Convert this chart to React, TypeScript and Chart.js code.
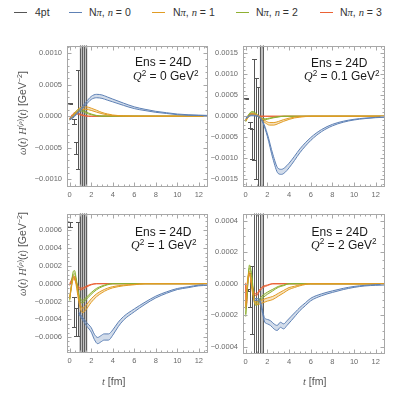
import React, { useEffect, useRef } from "react";
import { Chart, registerables } from "chart.js";
Chart.register(...registerables);

const SANS = "'Liberation Sans', Arial, Helvetica, sans-serif";
const SERIF = "'Liberation Serif', 'Times New Roman', serif";

const seriesColors = ["#5E81B5", "#E19C24", "#8FB032", "#EB6235"];
const seriesFills = [
  "rgba(94,129,181,0.28)",
  "rgba(225,156,36,0.28)",
  "rgba(143,176,50,0.28)",
  "rgba(235,98,53,0.28)",
];
const fourPtColor = "#555555";
const hugeBarColor = "#5e5e5e";

const xTicks = [0, 2, 4, 6, 8, 10, 12];
const xRange = [-0.25, 12.85];

// ---------- Panel A : Q^2 = 0 ----------
const A_yTicks = [-0.001, -0.0005, 0, 0.0005, 0.001];
const A_yRange = [-0.00112, 0.00112];
const A_n0_t = [0, 0.3, 0.6, 1.0, 1.5, 2.0, 2.5, 3.0, 3.5, 4.0, 5.0, 6.0, 7.0, 8.0, 9.0, 10.0, 11.0, 12.0, 12.9];
const A_n0_v = [-0.00005, -0.00002, 0.00003, 0.0001, 0.0002, 0.00029, 0.00032, 0.00031, 0.00028, 0.00025, 0.00019, 0.000135, 0.0001, 0.00007, 0.00005, 0.00003, 0.00002, 0.000015, 0.00001];
const A_n0_w = [0.000005, 0.000008, 0.00001, 0.000015, 0.00002, 0.000024, 0.000027, 0.000027, 0.000025, 0.000022, 0.000018, 0.000014, 0.00001, 0.000008, 0.000006, 0.000005, 0.000004, 0.000003, 0.000003];
const A_n1_t = [0, 0.3, 0.6, 0.9, 1.2, 1.5, 2.0, 2.5, 3.0, 3.5, 4.0, 5.0, 6.0, 12.9];
const A_n1_v = [-0.00005, -0.00001, 0.00006, 0.00011, 0.00013, 0.00013, 0.00011, 0.00008, 0.00005, 0.00003, 0.000015, 0.000004, 0.0, 0.0];
const A_n1_w = [0.000005, 0.00001, 0.000015, 0.000018, 0.00002, 0.00002, 0.000018, 0.000015, 0.00001, 0.000007, 0.000005, 0.000002, 0.000001, 0.000001];
const A_n2_t = [0, 0.3, 0.6, 0.9, 1.2, 1.5, 2.0, 2.5, 3.0, 12.9];
const A_n2_v = [-0.00005, 0.0, 0.00007, 0.0001, 0.00009, 0.00006, 0.00003, 0.00001, 0.000003, 0.0];
const A_n2_w = [0.000005, 0.00001, 0.000012, 0.000015, 0.000012, 0.00001, 0.000006, 0.000003, 0.000002, 0.000001];
const A_n3_t = [0, 0.25, 0.5, 0.8, 1.1, 1.5, 2.0, 12.9];
const A_n3_v = [-0.00004, 0.00002, 0.00005, 0.00004, 0.00002, 0.000005, 0.0, 0.0];
const A_n3_w = [0.000005, 0.000008, 0.00001, 0.00001, 0.000006, 0.000003, 0.000001, 0.000001];
const A_4pt_t = [0, 0.389, 0.583, 0.777, 0.971, 1.166, 1.36, 1.554];
const A_4pt_v = [0.0002, -0.00009, -0.0005, -0.00005, 0, 0, 0, 0];
const A_4pt_e = [0.000004, 0.00004, 0.0001, 0.00079, 0.01, 0.01, 0.01, 0.01];
const A_band = [0.93, 1.65];

// ---------- Panel B : Q^2 = 0.1 ----------
const B_yTicks = [-0.0015, -0.001, -0.0005, 0, 0.0005, 0.001, 0.0015];
const B_yRange = [-0.00168, 0.00168];
const B_n0_t = [0, 0.5, 1.0, 1.3, 1.6, 2.0, 2.5, 3.0, 3.3, 3.6, 4.0, 4.5, 5.0, 6.0, 7.0, 8.0, 9.0, 10.0, 11.0, 12.0, 12.9];
const B_n0_v = [-0.00005, 0.00002, 0.00001, -0.00003, -0.00015, -0.00045, -0.00095, -0.0013, -0.00132, -0.00128, -0.00117, -0.001, -0.00082, -0.00054, -0.00034, -0.00021, -0.00013, -0.00008, -0.00005, -0.00003, -0.00002];
const B_n0_w = [0.000005, 0.000008, 0.00001, 0.00001, 0.000015, 0.00003, 0.00005, 0.00006, 0.00006, 0.00006, 0.000055, 0.00005, 0.000045, 0.000035, 0.000025, 0.000018, 0.000012, 0.000008, 0.000006, 0.000004, 0.000003];
const B_n1_t = [0, 0.3, 0.6, 0.9, 1.2, 1.5, 1.8, 2.2, 2.6, 3.0, 3.5, 4.0, 4.5, 5.0, 6.0, 12.9];
const B_n1_v = [-0.0001, 0.0, 0.00005, 0.00004, 0.0, -0.00007, -0.00013, -0.00018, -0.00018, -0.00015, -0.0001, -0.00006, -0.00003, -0.000015, 0.0, 0.0];
const B_n1_w = [0.00001, 0.00001, 0.00001, 0.00001, 0.000012, 0.00002, 0.000025, 0.00003, 0.00003, 0.000025, 0.00002, 0.000015, 0.00001, 0.000006, 0.000002, 0.000001];
const B_n2_t = [0, 0.3, 0.6, 0.9, 1.2, 1.5, 1.8, 2.2, 2.6, 3.0, 3.5, 12.9];
const B_n2_v = [-0.00012, 0.00004, 0.0001, 0.00007, -0.00001, -0.00006, -0.00007, -0.00005, -0.00003, -0.000015, 0.0, 0.0];
const B_n2_w = [0.00001, 0.00001, 0.000015, 0.000012, 0.00001, 0.00001, 0.00001, 0.000008, 0.000005, 0.000003, 0.000001, 0.000001];
const B_n3_t = [0, 0.2, 0.4, 0.7, 1.0, 1.3, 1.8, 12.9];
const B_n3_v = [-0.0001, 0.0, 0.00005, 0.00005, 0.00002, 0.0, 0.0, 0.0];
const B_n3_w = [0.00001, 0.00001, 0.00001, 0.00001, 0.000006, 0.000003, 0.000001, 0.000001];
const B_4pt_t = [0, 0.389, 0.583, 0.777, 0.971, 1.166, 1.36, 1.554];
const B_4pt_v = [0.00042, -0.0002, -0.00066, 0.00017, -0.0003, -0.0006, 0, 0];
const B_4pt_e = [0.000008, 0.00007, 0.00035, 0.0012, 0.0012, 0.0013, 0.01, 0.01];
const B_band = [1.3, 1.65];

// ---------- Panel C : Q^2 = 1 ----------
const C_yTicks = [-0.0006, -0.0004, -0.0002, 0, 0.0002, 0.0004, 0.0006];
const C_yRange = [-0.00078, 0.00079];
const C_n0_t = [0.85, 1.0, 1.3, 1.6, 2.0, 2.3, 2.6, 2.9, 3.2, 3.6, 4.0, 4.5, 5.0, 6.0, 7.0, 8.0, 9.0, 10.0, 11.0, 12.0, 12.9];
const C_n0_v = [-0.00033, -0.00036, -0.00041, -0.00046, -0.00052, -0.0006, -0.00064, -0.00062, -0.0006, -0.0006, -0.00055, -0.00046, -0.00039, -0.0003, -0.00022, -0.00015, -0.0001, -0.00006, -0.00004, -0.00002, -0.000015];
const C_n0_w = [0.00001, 0.000012, 0.000015, 0.00002, 0.000025, 0.00003, 0.000035, 0.000035, 0.000035, 0.000035, 0.00003, 0.000025, 0.00002, 0.000016, 0.000012, 0.00001, 0.000008, 0.000006, 0.000005, 0.000004, 0.000003];
const C_n1_t = [0, 0.15, 0.3, 0.45, 0.6, 0.8, 1.0, 1.2, 1.5, 2.0, 2.5, 3.0, 3.5, 4.0, 5.0, 6.0, 7.0, 12.9];
const C_n1_v = [-0.00016, -0.00004, 0.00005, 0.00007, 0.0, -0.00015, -0.00026, -0.0003, -0.00027, -0.00019, -0.00013, -0.00009, -0.00006, -0.00004, -0.00002, -0.00001, 0.0, 0.0];
const C_n1_w = [0.00001, 0.00001, 0.00001, 0.000012, 0.000015, 0.00002, 0.000025, 0.000025, 0.000025, 0.00002, 0.000016, 0.000012, 0.000009, 0.000007, 0.000004, 0.000002, 0.000001, 0.000001];
const C_n2_t = [0, 0.15, 0.3, 0.45, 0.6, 0.8, 1.0, 1.2, 1.5, 2.0, 2.5, 3.0, 3.5, 4.0, 12.9];
const C_n2_v = [-0.00018, -0.00003, 0.00011, 0.00013, 0.00005, -0.0001, -0.00019, -0.0002, -0.00017, -0.00011, -0.00006, -0.00003, -0.00001, 0.0, 0.0];
const C_n2_w = [0.00001, 0.00001, 0.000015, 0.000018, 0.000015, 0.000015, 0.000015, 0.000015, 0.000012, 0.00001, 0.000008, 0.000005, 0.000003, 0.000001, 0.000001];
const C_n3_t = [0, 0.15, 0.35, 0.55, 0.8, 1.0, 1.3, 1.6, 2.0, 2.5, 12.9];
const C_n3_v = [-0.00001, 0.00003, 0.00008, 0.00003, -0.00004, -0.00006, -0.00005, -0.00003, -0.00001, 0.0, 0.0];
const C_n3_w = [0.00001, 0.00001, 0.00001, 0.00001, 0.00001, 0.00001, 0.000008, 0.000006, 0.000003, 0.000001, 0.000001];
const C_4pt_t = [0, 0.389, 0.583, 0.777, 0.971, 1.166, 1.36, 1.554];
const C_4pt_v = [0.000665, -0.00032, -0.00043, 0.00005, 0, 0, 0, 0];
const C_4pt_e = [0.000025, 0.00017, 0.00016, 0.00064, 0.01, 0.01, 0.01, 0.01];
const C_band = [0.88, 1.65];

// ---------- Panel D : Q^2 = 2 ----------
const D_yTicks = [-0.0004, -0.0002, 0, 0.0002, 0.0004];
const D_yRange = [-0.000445, 0.000445];
const D_n0_t = [0.8, 1.0, 1.3, 1.5, 1.75, 2.0, 2.3, 2.6, 2.9, 3.2, 3.5, 3.8, 4.2, 4.6, 5.0, 5.5, 6.0, 7.0, 8.0, 9.0, 10.0, 11.0, 12.0, 12.9];
const D_n0_v = [-0.0001, -0.0001, -0.00011, -0.00016, -0.00023, -0.00024, -0.00025, -0.00027, -0.00028, -0.00026, -0.00027, -0.00025, -0.00022, -0.00019, -0.00016, -0.00013, -0.0001, -0.00007, -0.00005, -0.000033, -0.00002, -0.000012, -0.000008, -0.000006];
const D_n0_w = [0.000005, 0.000006, 0.000008, 0.00001, 0.000012, 0.000014, 0.000015, 0.000016, 0.000016, 0.000016, 0.000016, 0.000015, 0.000014, 0.000012, 0.00001, 0.000009, 0.000008, 0.000006, 0.000005, 0.000004, 0.000003, 0.000002, 0.000002, 0.000002];
const D_n1_t = [0, 0.15, 0.35, 0.6, 0.9, 1.2, 1.6, 2.0, 2.5, 3.0, 3.5, 4.0, 4.5, 5.0, 6.0, 12.9];
const D_n1_v = [-0.00015, 0.0, 0.00007, -0.00004, -0.00012, -0.00012, -0.00011, -0.0001, -0.00009, -0.00007, -0.00005, -0.00003, -0.00002, -0.00001, 0.0, 0.0];
const D_n1_w = [0.000008, 0.000008, 0.000008, 0.000008, 0.000009, 0.00001, 0.00001, 0.00001, 0.00001, 0.000009, 0.000008, 0.000006, 0.000004, 0.000003, 0.000001, 0.000001];
const D_n2_t = [0, 0.15, 0.35, 0.55, 0.8, 1.0, 1.3, 1.6, 2.0, 2.5, 3.0, 3.5, 4.0, 12.9];
const D_n2_v = [-0.0002, -0.00004, 0.00011, 0.00005, -0.00011, -0.00013, -0.0001, -0.00008, -0.00006, -0.00004, -0.00002, -0.00001, 0.0, 0.0];
const D_n2_w = [0.000008, 0.000008, 0.000009, 0.000009, 0.000009, 0.000009, 0.000008, 0.000008, 0.000007, 0.000005, 0.000003, 0.000002, 0.000001, 0.000001];
const D_n3_t = [0, 0.05, 0.2, 0.35, 0.55, 0.8, 1.0, 1.3, 1.6, 2.0, 2.5, 12.9];
const D_n3_v = [0.0, -0.00015, 0.00002, 0.00006, 0.0, -0.00006, -0.00007, -0.00004, -0.00002, -0.00001, 0.0, 0.0];
const D_n3_w = [0.000006, 0.000006, 0.000006, 0.000006, 0.000006, 0.000006, 0.000006, 0.000005, 0.000004, 0.000002, 0.000001, 0.000001];
const D_4pt_t = [0.194, 0.389, 0.583, 0.777, 0.971, 1.166, 1.36, 1.554];
const D_4pt_v = [-0.00004, -0.00004, -0.000105, 0, 0, 0, 0, 0];
const D_4pt_e = [0.000004, 0.00011, 0.000215, 0.01, 0.01, 0.01, 0.01, 0.01];
const D_band = [1.42, 1.66];

type Curve = { t: number[]; v: number[]; w: number[] };
type Panel = {
  plot: { left: number; top: number; w: number; h: number };
  yRange: number[];
  yTicks: number[];
  yMinor: number;
  curves: Curve[];
  fourT: number[];
  fourV: number[];
  fourE: number[];
  band: number[];
};

const panels: Panel[] = [
  {
    plot: { left: 67, top: 44, w: 141, h: 143 },
    yRange: A_yRange, yTicks: A_yTicks, yMinor: 0.0001,
    curves: [
      { t: A_n0_t, v: A_n0_v, w: A_n0_w },
      { t: A_n1_t, v: A_n1_v, w: A_n1_w },
      { t: A_n2_t, v: A_n2_v, w: A_n2_w },
      { t: A_n3_t, v: A_n3_v, w: A_n3_w },
    ],
    fourT: A_4pt_t, fourV: A_4pt_v, fourE: A_4pt_e, band: A_band,
  },
  {
    plot: { left: 243, top: 44, w: 142, h: 143 },
    yRange: B_yRange, yTicks: B_yTicks, yMinor: 0.0001,
    curves: [
      { t: B_n0_t, v: B_n0_v, w: B_n0_w },
      { t: B_n1_t, v: B_n1_v, w: B_n1_w },
      { t: B_n2_t, v: B_n2_v, w: B_n2_w },
      { t: B_n3_t, v: B_n3_v, w: B_n3_w },
    ],
    fourT: B_4pt_t, fourV: B_4pt_v, fourE: B_4pt_e, band: B_band,
  },
  {
    plot: { left: 67, top: 212, w: 141, h: 141 },
    yRange: C_yRange, yTicks: C_yTicks, yMinor: 0.00005,
    curves: [
      { t: C_n0_t, v: C_n0_v, w: C_n0_w },
      { t: C_n1_t, v: C_n1_v, w: C_n1_w },
      { t: C_n2_t, v: C_n2_v, w: C_n2_w },
      { t: C_n3_t, v: C_n3_v, w: C_n3_w },
    ],
    fourT: C_4pt_t, fourV: C_4pt_v, fourE: C_4pt_e, band: C_band,
  },
  {
    plot: { left: 243, top: 212, w: 142, h: 142 },
    yRange: D_yRange, yTicks: D_yTicks, yMinor: 0.00005,
    curves: [
      { t: D_n0_t, v: D_n0_v, w: D_n0_w },
      { t: D_n1_t, v: D_n1_v, w: D_n1_w },
      { t: D_n2_t, v: D_n2_v, w: D_n2_w },
      { t: D_n3_t, v: D_n3_v, w: D_n3_w },
    ],
    fourT: D_4pt_t, fourV: D_4pt_v, fourE: D_4pt_e, band: D_band,
  },
];

const AX_W = 40;
const AX_H = 18;
const PAD_T = 8;
const PAD_R = 8;

function fmtY(v: number): string {
  const s = Math.abs(v).toFixed(4);
  return v < -1e-12 ? "\u2212" + s : s;
}

function makePlugin(p: Panel) {
  return {
    id: "mmaFrame",
    beforeDatasetsDraw(chart: any) {
      const { ctx, chartArea: a } = chart;
      const x = chart.scales.x;
      const y = chart.scales.y;
      ctx.save();
      ctx.beginPath();
      ctx.rect(a.left, a.top, a.right - a.left, a.bottom - a.top);
      ctx.clip();
      const b0 = x.getPixelForValue(p.band[0]);
      const b1 = x.getPixelForValue(p.band[1]);
      ctx.fillStyle = "rgba(150,150,150,0.6)";
      ctx.fillRect(b0, a.top, b1 - b0, a.bottom - a.top);
      ctx.lineWidth = 1;
      p.fourT.forEach((t, i) => {
        const huge = p.fourE[i] > 0.005;
        ctx.strokeStyle = huge ? hugeBarColor : fourPtColor;
        const px = Math.round(x.getPixelForValue(t)) + 0.5;
        const yt = Math.round(y.getPixelForValue(p.fourV[i] + p.fourE[i])) + 0.5;
        const yb = Math.round(y.getPixelForValue(p.fourV[i] - p.fourE[i])) + 0.5;
        ctx.beginPath();
        ctx.moveTo(px, yt);
        ctx.lineTo(px, yb);
        ctx.moveTo(px - 2.5, yt);
        ctx.lineTo(px + 2.5, yt);
        ctx.moveTo(px - 2.5, yb);
        ctx.lineTo(px + 2.5, yb);
        ctx.stroke();
      });
      ctx.restore();
    },
    afterDraw(chart: any) {
      const { ctx, chartArea: a } = chart;
      const x = chart.scales.x;
      const y = chart.scales.y;
      ctx.save();
      ctx.strokeStyle = "#a8a8a8";
      ctx.lineWidth = 1;
      const L = Math.round(a.left) + 0.5;
      const R = Math.round(a.right) - 0.5;
      const T = Math.round(a.top) + 0.5;
      const B = Math.round(a.bottom) - 0.5;
      ctx.strokeRect(L, T, R - L, B - T);
      ctx.beginPath();
      for (let k = 0; k <= 26; k++) {
        const t = k * 0.5;
        if (t > xRange[1]) break;
        const len = k % 4 === 0 ? 4 : 2;
        const px = Math.round(x.getPixelForValue(t)) + 0.5;
        ctx.moveTo(px, B);
        ctx.lineTo(px, B - len);
        ctx.moveTo(px, T);
        ctx.lineTo(px, T + len);
      }
      const major = p.yTicks[1] - p.yTicks[0];
      const n = Math.ceil(p.yRange[1] / p.yMinor);
      for (let k = -n; k <= n; k++) {
        const v = k * p.yMinor;
        if (v < p.yRange[0] || v > p.yRange[1]) continue;
        const isMajor = Math.abs(v / major - Math.round(v / major)) < 1e-6;
        const len = isMajor ? 4 : 2;
        const py = Math.round(y.getPixelForValue(v)) + 0.5;
        ctx.moveTo(L, py);
        ctx.lineTo(L + len, py);
        ctx.moveTo(R, py);
        ctx.lineTo(R - len, py);
      }
      ctx.stroke();
      ctx.restore();
    },
  };
}

function PanelChart({ p }: { p: Panel }) {
  const ref = useRef<HTMLCanvasElement | null>(null);
  const cw = p.plot.w + AX_W + PAD_R;
  const ch = p.plot.h + PAD_T + AX_H;
  useEffect(() => {
    if (!ref.current) return;
    const datasets: any[] = [];
    p.curves.forEach((c, ci) => {
      const lower = c.t.map((t, i) => ({ x: t, y: c.v[i] - c.w[i] }));
      const upper = c.t.map((t, i) => ({ x: t, y: c.v[i] + c.w[i] }));
      datasets.push({
        data: lower,
        borderColor: seriesColors[ci],
        borderWidth: 1,
        pointRadius: 0,
        fill: false,
        cubicInterpolationMode: "monotone",
      });
      datasets.push({
        data: upper,
        borderColor: seriesColors[ci],
        backgroundColor: seriesFills[ci],
        borderWidth: 1,
        pointRadius: 0,
        fill: "-1",
        cubicInterpolationMode: "monotone",
      });
    });
    const tickFont = { family: SANS, size: 7.5 };
    const chart = new Chart(ref.current, {
      type: "line",
      data: { datasets },
      plugins: [makePlugin(p)],
      options: {
        animation: false,
        responsive: false,
        devicePixelRatio: 1,
        events: [],
        layout: { padding: { left: 0, top: PAD_T, right: PAD_R, bottom: 0 } },
        plugins: { legend: { display: false }, tooltip: { enabled: false } },
        scales: {
          x: {
            type: "linear",
            min: xRange[0],
            max: xRange[1],
            grid: { display: false, drawTicks: false },
            border: { display: false },
            afterBuildTicks: (s: any) => {
              s.ticks = xTicks.map((v) => ({ value: v }));
            },
            afterFit: (s: any) => {
              s.height = AX_H;
            },
            ticks: {
              padding: 3,
              color: "#6a6a6a",
              font: tickFont,
              maxRotation: 0,
              autoSkip: false,
              callback: (v: any) => String(v),
            },
          },
          y: {
            type: "linear",
            min: p.yRange[0],
            max: p.yRange[1],
            grid: { display: false, drawTicks: false },
            border: { display: false },
            afterBuildTicks: (s: any) => {
              s.ticks = p.yTicks.map((v) => ({ value: v }));
            },
            afterFit: (s: any) => {
              s.width = AX_W;
            },
            ticks: {
              padding: 5,
              color: "#6a6a6a",
              font: tickFont,
              autoSkip: false,
              callback: (v: any) => fmtY(Number(v)),
            },
          },
        },
      } as any,
    });
    return () => chart.destroy();
  }, [p]);
  return (
    <canvas
      ref={ref}
      width={cw}
      height={ch}
      style={{
        position: "absolute",
        left: p.plot.left - AX_W,
        top: p.plot.top - PAD_T,
        width: cw,
        height: ch,
        display: "block",
      }}
    />
  );
}

const legendItems = [
  { label: "4pt", color: "#555555", lineX: 14, textX: 35 },
  { label: "0", color: seriesColors[0], lineX: 69, textX: 89 },
  { label: "1", color: seriesColors[1], lineX: 152, textX: 173 },
  { label: "2", color: seriesColors[2], lineX: 236, textX: 256 },
  { label: "3", color: seriesColors[3], lineX: 320, textX: 340 },
];

const qLabels = ["0", "0.1", "1", "2"];
const annotPos = [
  { ex: 135, ey: 62, qx: 133, qy: 76 },
  { ex: 311, ey: 62.5, qx: 304, qy: 76 },
  { ex: 135, ey: 232, qx: 131, qy: 245 },
  { ex: 311.5, ey: 231.5, qx: 311, qy: 244.5 },
];

const sup: React.CSSProperties = { fontSize: "0.68em", position: "relative", top: "-0.5em" };
const it: React.CSSProperties = { fontFamily: SERIF, fontStyle: "italic" };

function YTitle({ cx, cy }: { cx: number; cy: number }) {
  return (
    <div
      style={{
        position: "absolute",
        left: cx,
        top: cy,
        transform: "translate(-50%,-50%) rotate(-90deg)",
        whiteSpace: "nowrap",
        fontFamily: SANS,
        fontSize: 10.5,
        color: "#555",
        lineHeight: "12px",
      }}
    >
      <span style={it}>ω</span>(<span style={it}>t</span>) <span style={it}>H</span>
      <span style={sup}>
        (<span style={it}>ρ</span>)
      </span>
      (<span style={it}>t</span>) [GeV<span style={sup}>−2</span>]
    </div>
  );
}

function XTitle({ x, cy }: { x: number; cy: number }) {
  return (
    <div
      style={{
        position: "absolute",
        left: x,
        top: cy - 6,
        whiteSpace: "nowrap",
        fontFamily: SANS,
        fontSize: 10.5,
        color: "#555",
        lineHeight: "12px",
      }}
    >
      <span style={it}>t</span> [fm]
    </div>
  );
}

export default function App() {
  return (
    <div
      style={{
        position: "absolute",
        left: 0,
        top: 0,
        width: 399,
        height: 395,
        background: "#fff",
        overflow: "hidden",
      }}
    >
      {legendItems.map((li, i) => (
        <React.Fragment key={i}>
          <div
            style={{
              position: "absolute",
              left: li.lineX,
              top: 11.5,
              width: 13,
              height: 1.5,
              background: li.color,
            }}
          />
          <div
            style={{
              position: "absolute",
              left: li.textX,
              top: 6,
              fontFamily: SANS,
              fontSize: 10.5,
              lineHeight: "12px",
              color: "#333",
              whiteSpace: "nowrap",
            }}
          >
            {i === 0 ? (
              li.label
            ) : (
              <>
                N<span style={it}>π</span>, <span style={it}>n</span> = {li.label}
              </>
            )}
          </div>
        </React.Fragment>
      ))}

      {panels.map((p, i) => (
        <PanelChart key={i} p={p} />
      ))}

      {annotPos.map((a, i) => (
        <React.Fragment key={"a" + i}>
          <div
            style={{
              position: "absolute",
              left: a.ex,
              top: a.ey - 7,
              fontFamily: SANS,
              fontSize: 12,
              lineHeight: "14px",
              color: "#1a1a1a",
              whiteSpace: "nowrap",
            }}
          >
            Ens = 24D
          </div>
          <div
            style={{
              position: "absolute",
              left: a.qx,
              top: a.qy - 7,
              fontFamily: SANS,
              fontSize: 12,
              lineHeight: "14px",
              color: "#1a1a1a",
              whiteSpace: "nowrap",
            }}
          >
            <span style={it}>Q</span>
            <span style={sup}>2</span> = {qLabels[i]} GeV<span style={sup}>2</span>
          </div>
        </React.Fragment>
      ))}

      <YTitle cx={23} cy={113} />
      <YTitle cx={23} cy={254} />
      <XTitle x={102} cy={381} />
      <XTitle x={303} cy={381} />
    </div>
  );
}
